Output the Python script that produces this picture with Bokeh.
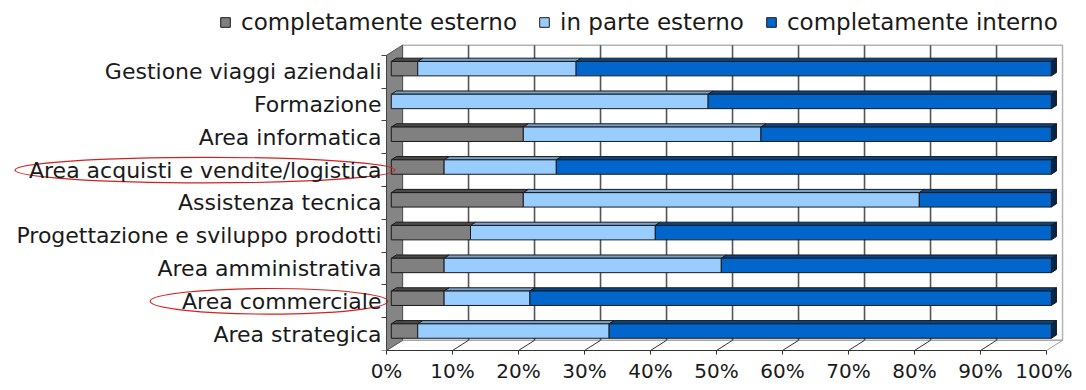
from bokeh.plotting import figure
from bokeh.models import Range1d, FixedTicker, Legend, LegendItem
from bokeh.embed import file_html
from bokeh.resources import INLINE
import numpy as np

# ---------------- data ----------------
categories = [
    "Gestione viaggi aziendali",
    "Formazione",
    "Area informatica",
    "Area acquisti e vendite/logistica",
    "Assistenza tecnica",
    "Progettazione e sviluppo prodotti",
    "Area amministrativa",
    "Area commerciale",
    "Area strategica",
]
completamente_esterno = [4, 0, 20, 8, 20, 12, 8, 8, 4]
in_parte_esterno = [24, 48, 36, 17, 60, 28, 42, 13, 29]
completamente_interno = [72, 52, 44, 75, 20, 60, 50, 79, 67]
series_names = ["completamente esterno", "in parte esterno", "completamente interno"]
x_ticks = [0, 10, 20, 30, 40, 50, 60, 70, 80, 90, 100]
x_tick_labels = ["0%", "10%", "20%", "30%", "40%", "50%", "60%", "70%", "80%", "90%", "100%"]
highlighted = ["Area acquisti e vendite/logistica", "Area commerciale"]

# ---------------- style ----------------
DX, DY = 2.43, 0.31          # depth of the 3D box (x in %, y in category units)
F1, F2 = 0.30, 0.62          # front / back depth fraction of the bars
BAR_H = 0.44
front_colors = ["#808080", "#99ccff", "#0066cc"]
top_colors = ["#4a4a4a", "#76a2ce", "#00478f"]
cap_color = "#00264d"
edge = "#1a1a1a"
FONT = "DejaVu Sans"
PX_X = 6.6                   # pixels per percent
PX_Y = 32.8                  # pixels per category
FRAME_W, FRAME_H = 1072, 350
X0_PX = 386                  # where 0% sits inside the frame

n = len(categories)
ypos = [n - 1 - i for i in range(n)]   # bottom index of each category
series = [completamente_esterno, in_parte_esterno, completamente_interno]

p = figure(frame_width=FRAME_W, frame_height=FRAME_H,
           x_range=Range1d(-X0_PX / PX_X, (FRAME_W - X0_PX) / PX_X),
           y_range=Range1d(0, FRAME_H / PX_Y),
           output_backend="svg", toolbar_location=None,
           min_border_left=0, min_border_right=0,
           min_border_top=0, min_border_bottom=30)
p.background_fill_color = "white"
p.border_fill_color = "white"
p.outline_line_color = None
p.xgrid.grid_line_color = None
p.ygrid.grid_line_color = None

# back wall
p.quad(left=[DX], right=[100 + DX], bottom=[DY], top=[n + DY],
       fill_color="white", line_color="#b3b3b3", line_width=1.5)
# floor
p.patch([0, 100, 100 + DX, DX], [0, 0, DY, DY],
        fill_color="white", line_color="#9a9a9a", line_width=1)
# gridlines on back wall and floor
gt = [t for t in x_ticks if 0 < t < 100]
p.segment(x0=[t + DX for t in gt], y0=[DY] * len(gt), x1=[t + DX for t in gt], y1=[n + DY] * len(gt),
          line_color="#555555", line_width=1.6)
p.segment(x0=gt, y0=[0] * len(gt), x1=[t + DX for t in gt], y1=[DY] * len(gt),
          line_color="#333333", line_width=1)
# left side wall
p.patch([0, 0, DX, DX], [0, n, n + DY, DY],
        fill_color="#858585", line_color="#555555", line_width=1)

# bars
renderers = []
cum = np.zeros(n)
for k, vals in enumerate(series):
    vals = np.array(vals, dtype=float)
    left = cum.copy()
    right = cum + vals
    cum = right
    mask = vals > 0
    l = left[mask] + F1 * DX
    r = right[mask] + F1 * DX
    yc = np.array(ypos, dtype=float)[mask] + 0.5 + F1 * DY
    b = yc - BAR_H / 2
    t = yc + BAR_H / 2
    dd_x = (F2 - F1) * DX
    dd_y = (F2 - F1) * DY
    # top faces
    p.patches(xs=[[a, c, c + dd_x, a + dd_x] for a, c in zip(l, r)],
              ys=[[tt, tt, tt + dd_y, tt + dd_y] for tt in t],
              fill_color=top_colors[k], line_color=edge, line_width=1)
    # end caps
    if k == len(series) - 1:
        p.patches(xs=[[c, c + dd_x, c + dd_x, c] for c in r],
                  ys=[[bb, bb + dd_y, tt + dd_y, tt] for bb, tt in zip(b, t)],
                  fill_color=cap_color, line_color=edge, line_width=1)
    rr = p.quad(left=l, right=r, bottom=b, top=t,
                fill_color=front_colors[k], line_color=edge, line_width=1)
    renderers.append(rr)

# axes
p.yaxis.fixed_location = 0
p.yaxis.ticker = FixedTicker(ticks=[i + 0.5 for i in range(n)], minor_ticks=list(range(n + 1)))
p.yaxis.major_label_overrides = {ypos[i] + 0.5: categories[i] for i in range(n)}
p.yaxis.major_tick_out = 0
p.yaxis.major_tick_in = 0
p.yaxis.minor_tick_out = 5
p.yaxis.minor_tick_in = 0
p.yaxis.bounds = (0, n)
p.yaxis.major_label_standoff = 0
p.yaxis.major_label_text_font = FONT
p.yaxis.major_label_text_font_size = "22px"
p.yaxis.major_label_text_color = "#1a1a1a"
p.yaxis.axis_line_color = "#444444"
p.yaxis.minor_tick_line_color = "#444444"

p.xaxis.ticker = FixedTicker(ticks=x_ticks, minor_ticks=[])
p.xaxis.major_label_overrides = {x_ticks[i]: x_tick_labels[i] for i in range(len(x_ticks))}
p.xaxis.bounds = (0, 100)
p.xaxis.major_tick_out = 4
p.xaxis.major_tick_in = 0
p.xaxis.minor_tick_out = 0
p.xaxis.major_label_standoff = 4
p.xaxis.major_label_text_font = FONT
p.xaxis.major_label_text_font_size = "20px"
p.xaxis.major_label_text_color = "#1a1a1a"
p.xaxis.axis_line_color = "#333333"
p.xaxis.major_tick_line_color = "#333333"

# legend (inside the wide frame, above the chart box)
legend = Legend(items=[LegendItem(label=series_names[k], renderers=[renderers[k]]) for k in range(3)],
                orientation="horizontal", location=(219, FRAME_H - 35),
                glyph_width=12, glyph_height=12, label_height=22, label_standoff=10, spacing=21,
                padding=0, margin=0, border_line_color=None, background_fill_alpha=0,
                label_text_font=FONT, label_text_font_size="23px", label_text_color="#1a1a1a")
p.add_layout(legend, "center")

# red ellipses around the highlighted labels
ell_center_x = {"Area acquisti e vendite/logistica": -27.5, "Area commerciale": -17.8}
ell_width = {"Area acquisti e vendite/logistica": 57.6, "Area commerciale": 36.0}
hx = [ell_center_x[h] for h in highlighted]
hy = [ypos[categories.index(h)] + 0.5 for h in highlighted]
hw = [ell_width[h] for h in highlighted]
p.ellipse(x=hx, y=hy, width=hw, height=[0.78] * len(highlighted),
          fill_alpha=0, line_color="#d42020", line_width=1.2)

open("out.html", "w").write(file_html(p, INLINE))
